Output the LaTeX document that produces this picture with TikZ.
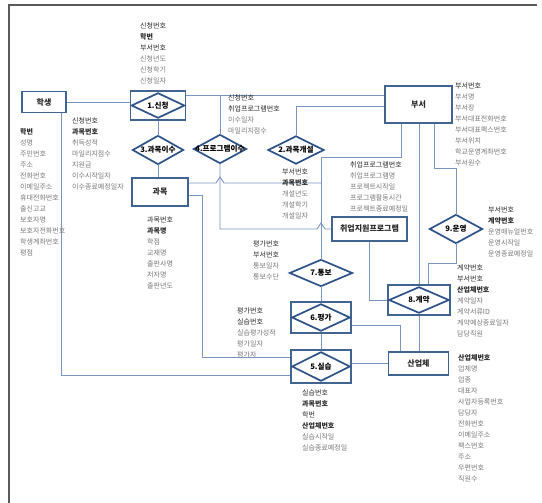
\documentclass[tikz,border=0pt]{standalone}
\usepackage{fontspec}
\setmainfont{Noto Sans CJK KR}
\usetikzlibrary{calc}
\definecolor{entc}{RGB}{66,100,145}
\definecolor{relc}{RGB}{45,82,135}
\definecolor{linec}{RGB}{120,150,192}
\definecolor{keyc}{RGB}{40,40,40}
\definecolor{attc}{RGB}{120,120,120}
\definecolor{framec}{RGB}{90,90,90}
\newcommand\K[1]{\textcolor{keyc}{#1}}
\newcommand\B[1]{\textcolor{keyc}{\bfseries #1}}
\begin{document}
\begin{tikzpicture}[x=1pt,y=-1pt,
  ent/.style={draw=entc, line width=1.6pt, fill=white, inner sep=0pt, font=\fontsize{8}{10}\selectfont\bfseries, text=keyc},
  relbox/.style={inner sep=0pt, draw=none},
  diam/.style={draw=relc, line width=1.7pt, fill=white, line join=miter},
  rlab/.style={inner sep=0pt, font=\fontsize{7.6}{9}\selectfont\bfseries, text=black},
  conn/.style={draw=linec, line width=0.9pt},
  attr/.style={anchor=north west, inner sep=0pt, align=left, text=attc, font=\fontsize{7}{11}\selectfont},
]
\useasboundingbox (0,0) rectangle (542,503);
\fill[white] (0,0) rectangle (542,503);
\draw[framec, line width=1.2pt] (9,503) -- (9,5) -- (537,5);

% entities
\node[ent, minimum width=44pt, minimum height=21pt] (stu) at (44,102) {학생};
\node[ent, minimum width=67pt, minimum height=37pt] (dept) at (418.5,104.5) {부서};
\node[ent, minimum width=56pt, minimum height=28pt] (subj) at (160,192) {과목};
\node[ent, minimum width=75pt, minimum height=24pt] (prog) at (369.5,229) {취업지원프로그램};
\node[ent, minimum width=60pt, minimum height=23pt] (ind) at (418.5,363.5) {산업체};

% associative entities
\node[ent, minimum width=55pt, minimum height=29pt] (r1) at (158,105.5) {};
\node[ent, minimum width=62pt, minimum height=30pt] (r8) at (419,300) {};
\node[ent, minimum width=60pt, minimum height=31pt] (r6) at (321,317.5) {};
\node[ent, minimum width=60pt, minimum height=33pt] (r5) at (321,366.5) {};
\foreach \n in {r1,r8,r6,r5}{
  \draw[diam] ([xshift=2pt]\n.west) -- ([yshift=-3pt]\n.north) -- ([xshift=-2pt]\n.east) -- ([yshift=3pt]\n.south) -- cycle;
}

% relationships
\node[relbox, minimum width=50pt, minimum height=28pt] (r3) at (158,150) {};
\node[relbox, minimum width=52pt, minimum height=28pt] (r4) at (220,149) {};
\node[relbox, minimum width=55pt, minimum height=27pt] (r2) at (296,150) {};
\node[relbox, minimum width=62pt, minimum height=26pt] (r7) at (321,273) {};
\node[relbox, minimum width=52pt, minimum height=28pt] (r9) at (456,229) {};
\foreach \n in {r3,r4,r2,r7,r9}{
  \draw[diam] (\n.west) -- (\n.north) -- (\n.east) -- (\n.south) -- cycle;
}

\node[rlab] (r1t) at (r1) {1.신청};
\node[rlab] (r2t) at (r2) {2.과목개설};
\node[rlab] (r3t) at (r3) {3.과목이수};
\node[rlab] (r4t) at (r4) {4.프로그램이수};
\node[rlab] (r5t) at (r5) {5.실습};
\node[rlab] (r6t) at (r6) {6.평가};
\node[rlab] (r7t) at (r7) {7.통보};
\node[rlab] (r8t) at (r8) {8.계약};
\node[rlab] (r9t) at (r9) {9.운영};

% junction coordinates
\coordinate (j1) at (220,95);
\coordinate (j2) at (296,106);
\coordinate (j3) at (401,157);
\coordinate (j4) at (321,183);
\coordinate (j5a) at (202,195);
\coordinate (j5) at (202,357);
\coordinate (j6) at (61,375);
\coordinate (j7) at (400,325);
\coordinate (j8) at (434,168);
\coordinate (j9) at (428,263);

% connectors
\draw[conn] (stu.east) -- (stu.east -| r1.west);
\draw[conn] (r1.east |- j1) -- (dept.west |- j1);
\draw[conn] (r4.north) -- (r4.north |- j1);
\draw[conn] (r1.south) -- (r3.north);
\draw[conn] (r3.south) -- (r3.south |- subj.north);
\draw[conn] (r2.north) -- (j2) -- (j2 -| dept.west);
\draw[conn] (dept.south -| j3) -- (j3) -- (j3 -| r7.north) -- (r7.north);
\draw[conn] (subj.east |- j4) -- ($(j4 -| r4.south)+(-4,0)$) -- ++(4,-6) -- ++(4,6) -- (j4);
\draw[conn] (subj.east |- j5a) -- (j5a) -- (j5) -- (j5 -| r5.west);
\draw[conn] (stu.south -| j6) -- (j6) -- (j6 -| r5.west);
\draw[conn] (r4.south) -- (r4.south |- prog.west) -- ($(prog.west -| r7.north)+(-4,0)$) -- ++(4,-6) -- ++(4,6) -- (prog.west);
\draw[conn] (r7.south) -- (r6.north);
\draw[conn] (r6.south) -- (r5.north);
\draw[conn] (r6.east |- j7) -- (j7) -- (j7 |- ind.north);
\draw[conn] (r5.east |- ind.west) -- (ind.west);
\draw[conn] (r8.south) -- (r8.south |- ind.north);
\draw[conn] (dept.south -| r8.north) -- (r8.north);
\draw[conn] (dept.south -| j8) -- (j8) -- (j8 -| r9.north) -- (r9.north);
\draw[conn] (r9.south) -- (r9.south |- j9) -- (j9) -- (j9 |- r8.north);
\draw[conn] (prog.south) -- (prog.south |- r8.west) -- (r8.west);

% attributes
\node[attr] (a1) at (140,22) {\K{신청번호}\\\B{학번}\\\K{부서번호}\\신청년도\\신청학기\\신청일자};
\node[attr] (a3) at (72,117) {\K{신청번호}\\\B{과목번호}\\취득성적\\마일리지점수\\지원금\\이수시작일자\\이수종료예정일자};
\node[attr] (astu) at (20,128) {\B{학번}\\성명\\주민번호\\주소\\전화번호\\이메일주소\\휴대전화번호\\출신고교\\보호자명\\보호자전화번호\\학생계좌번호\\평점};
\node[attr] (a4) at (228,94) {\K{신청번호}\\\K{취업프로그램번호}\\이수일자\\마일리지점수};
\node[attr] (a2) at (282,169) {\K{부서번호}\\\B{과목번호}\\개설년도\\개설학기\\개설일자};
\node[attr] (adept) at (455,83) {\K{부서번호}\\부서명\\부서장\\부서대표전화번호\\부서대표팩스번호\\부서위치\\학교운영계좌번호\\부서원수};
\node[attr] (aprog) at (350,162) {\K{취업프로그램번호}\\취업프로그램명\\프로젝트시작일\\프로그램활동시간\\프로젝트종료예정일};
\node[attr] (a9) at (488,207) {\K{부서번호}\\\B{계약번호}\\운영매뉴얼번호\\운영시작일\\운영종료예정일};
\node[attr] (a8) at (457,265) {\K{계약번호}\\\K{부서번호}\\\B{산업체번호}\\계약일자\\계약서류ID\\계약예상종료일자\\담당직원};
\node[attr] (aind) at (458,354) {\B{산업체번호}\\업체명\\업종\\대표자\\사업자등록번호\\담당자\\전화번호\\이메일주소\\팩스번호\\주소\\우편번호\\직원수};
\node[attr] (a7) at (253,241) {\K{평가번호}\\\K{부서번호}\\통보일자\\통보수단};
\node[attr] (a6) at (237,308) {\K{평가번호}\\\K{실습번호}\\실습평가성적\\평가일자\\평가자};
\node[attr] (a5) at (302,390) {\K{실습번호}\\\B{과목번호}\\\K{학번}\\\B{산업체번호}\\실습시작일\\실습종료예정일};
\node[attr] (asubj) at (147,217) {\K{과목번호}\\\B{과목명}\\학점\\교재명\\출판사명\\저자명\\출판년도};
\end{tikzpicture}
\end{document}
